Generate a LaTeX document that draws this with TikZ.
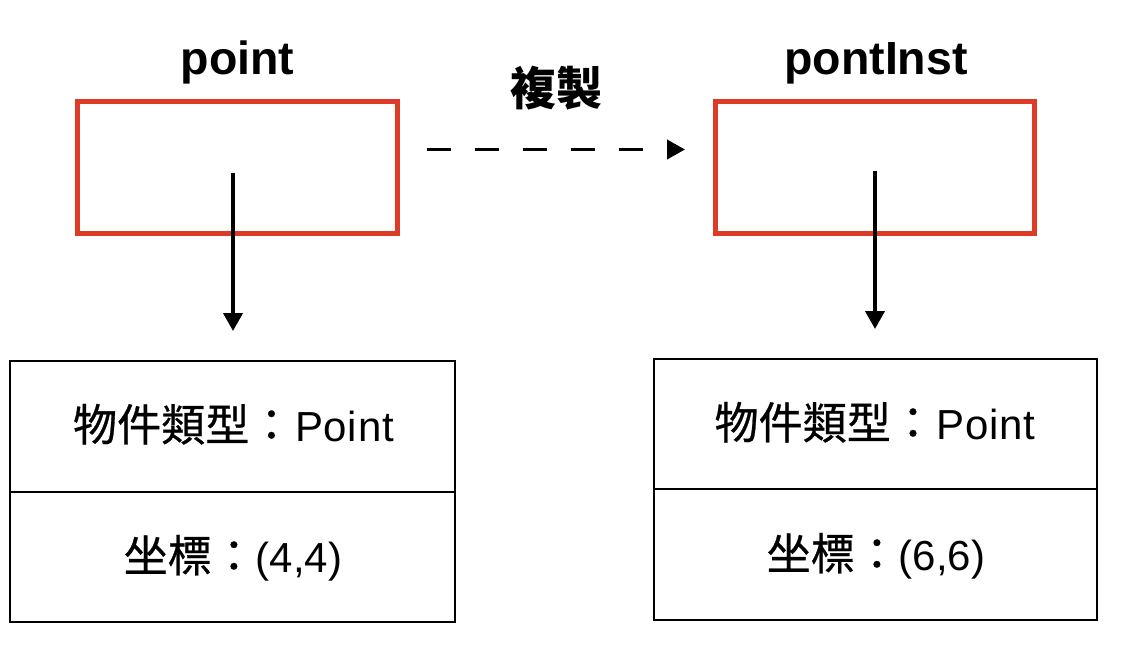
\documentclass[tikz,border=0pt]{standalone}
\usepackage{fontspec}
\setmainfont{Liberation Sans}
\newfontfamily\cjk[Scale=1.05,FakeBold=0.6]{Noto Sans CJK TC}
\newfontfamily\cjkhead{Noto Sans CJK TC}
\usetikzlibrary{arrows.meta}
\definecolor{redbox}{RGB}{222,59,39}
\tikzset{
  refbox/.style={draw=redbox, line width=5.5pt, minimum width=320pt, minimum height=132pt, inner sep=0pt, outer sep=0pt},
  cellbox/.style={draw=black, line width=2.2pt, minimum width=445pt, inner sep=0pt, outer sep=0pt},
  varlabel/.style={font=\fontsize{46.5}{50}\selectfont\bfseries, inner sep=0pt, anchor=base},
  celltext/.style={font=\fontsize{42}{48}\selectfont, inner sep=0pt, anchor=base},
  pointer/.style={line width=3.8pt, -{Triangle[length=18pt,width=19pt]}},
  copyarrow/.style={line width=3.8pt, dash pattern=on 24pt off 24pt, -{Triangle[length=18pt,width=19pt]}}
}
\begin{document}
\begin{tikzpicture}[x=1pt,y=-1pt]
\useasboundingbox[fill=white] (0,0) rectangle (1132,660);
% variable boxes
\node[refbox] (boxA) at (237.5,167.5) {};
\node[refbox, minimum width=319pt] (boxB) at (875,167.5) {};
\node[varlabel] (labA) at (237.5,75) {point};
\node[varlabel] (labB) at (876,75) {pontInst};
% copy arrow
\coordinate (cpS) at (427,149.5);
\coordinate (cpE) at (685,149.5);
\draw[copyarrow] (cpS) -- (cpE);
\node[font=\cjkhead\fontsize{46}{50}\selectfont\bfseries, inner sep=0pt] (copylab) at (556,88) {複製};
% object boxes
\node[cellbox, minimum height=131pt] (objAtop) at (232.5,426.5) {};
\node[cellbox, minimum height=130pt] (objAbot) at (232.5,557) {};
\node[cellbox, minimum width=443pt, minimum height=130pt] (objBtop) at (875.5,424) {};
\node[cellbox, minimum width=443pt, minimum height=131pt] (objBbot) at (875.5,554.5) {};
\node[celltext] (typeA) at (233.5,441) {{\cjk 物件類型：}\kern1.5pt P\kern0.8pt o\kern0.8pt i\kern0.8pt n\kern0.8pt t};
\node[celltext] (posA) at (233,572) {{\cjk 坐標：}(4,4)};
\node[celltext] (typeB) at (875,439) {{\cjk 物件類型：}\kern1.5pt P\kern0.8pt o\kern0.8pt i\kern0.8pt n\kern0.8pt t};
\node[celltext] (posB) at (876,570) {{\cjk 坐標：}(6,6)};
% pointers
\coordinate (pA) at (233,173);
\coordinate (pAend) at (233,331);
\coordinate (pB) at (875,171);
\coordinate (pBend) at (875,329);
\draw[pointer] (pA) -- (pAend);
\draw[pointer] (pB) -- (pBend);
\end{tikzpicture}
\end{document}
